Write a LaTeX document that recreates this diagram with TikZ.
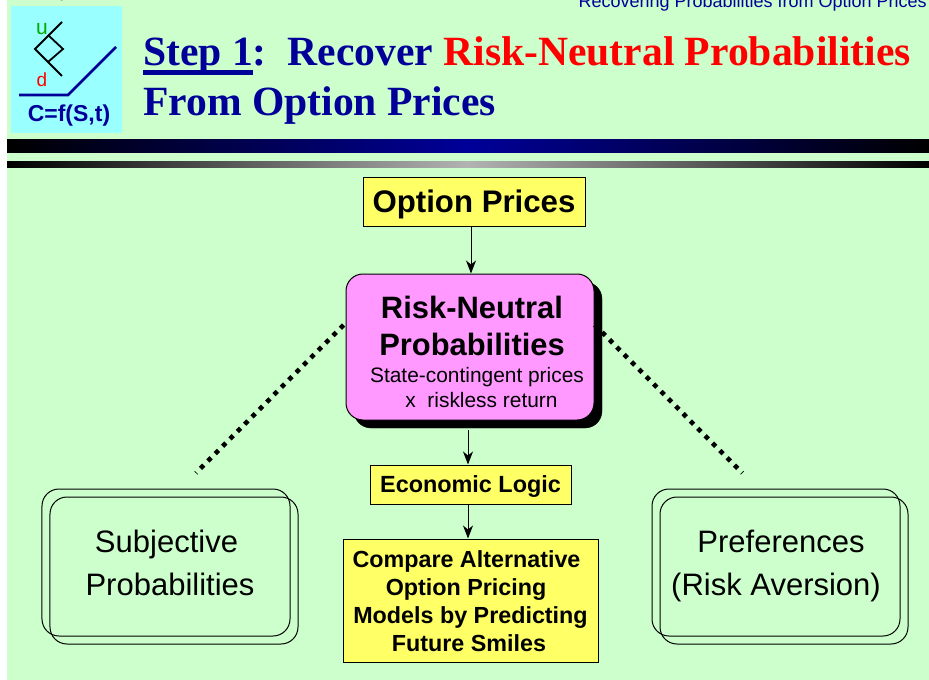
\documentclass[tikz,border=0pt]{standalone}
\usepackage{fontspec}
\setmainfont{Liberation Sans}
\newfontfamily\serifb{Liberation Serif}
\usetikzlibrary{arrows.meta,shadings}
\definecolor{bggreen}{RGB}{204,255,204}
\definecolor{navyb}{RGB}{0,0,153}
\definecolor{logocyan}{RGB}{153,255,255}
\definecolor{boxyellow}{RGB}{255,255,102}
\definecolor{boxpink}{RGB}{255,153,255}
\definecolor{logogreen}{RGB}{0,170,0}
\newcommand\fs[1]{\fontsize{#1bp}{#1bp}\selectfont}
\newcommand\myul[1]{\setbox0\hbox{#1}\rlap{\rule[-9bp]{\wd0}{4.5bp}}\box0}
\tikzset{
  x=1bp,y=-1bp,
  pbox/.style={draw=black,line width=1bp,inner sep=0pt,minimum width=#1,align=center,text=black},
  conn/.style={draw=black,line width=1bp,-{Stealth[length=13bp,width=10bp,inset=4bp]}},
  dots/.style={draw=black,line width=4.6bp,dash pattern=on 4.6bp off 5.82bp,dash phase=4bp},
  ring/.style={draw=black,line width=1bp,rounded corners=17bp},
  titletext/.style={anchor=base west,inner sep=0pt,font=\serifb\bfseries\fs{41.6},text=navyb},
  lbl/.style={anchor=center,inner sep=0pt,align=center,text=black,font=\fs{31}}
}
\begin{document}
\begin{tikzpicture}
\useasboundingbox (0,0) rectangle (929,680);
\clip (0,0) rectangle (929,680);
\fill[white] (0,0) rectangle (929,680);
\fill[bggreen] (7,0) rectangle (929,680);
% header texts
\node[anchor=base east,inner sep=0pt,text=navyb,font=\fs{18}] (hdr) at (927,8) {Recovering Probabilities from Option Prices};
\node[anchor=base,inner sep=0pt,text=black,font=\fs{11}] (hdl) at (62,-1) {g};
% logo
\fill[logocyan] (11,6) rectangle (122,133);
\draw[black,line width=1.8bp] (62,22) -- (35,49) -- (62,76);
\draw[black,line width=1.8bp] (48,35) -- (63,49) -- (48,62);
\draw[navyb,line width=2.6bp] (19,95) -- (68,95) -- (116,47);
\node[anchor=center,inner sep=0pt,text=logogreen,font=\fs{21}] (lu) at (42,29) {u};
\node[anchor=center,inner sep=0pt,text=red,font=\fs{19}] (ld) at (42,80) {d};
\node[anchor=center,inner sep=0pt,text=navyb,font=\bfseries\fs{23}] (lf) at (69,116) {C=f(S,t)};
% title
\node[titletext] (t1) at (143,66) {\myul{Step 1}:\ \ Recover \textcolor{red}{Risk-Neutral Probabilities}};
\node[titletext] (t2) at (143,116) {From Option Prices};
% bars
\shade[left color=black,right color=navyb,shading=axis,shading angle=90] (7,140) rectangle (468,153);
\shade[left color=navyb,right color=black,shading=axis,shading angle=90] (468,140) rectangle (929,153);
\shade[left color=black,right color=black!30,shading=axis,shading angle=90] (7,162) rectangle (468,167);
\shade[left color=black!30,right color=black,shading=axis,shading angle=90] (468,162) rectangle (929,167);
% boxes
\node[pbox=222bp,fill=boxyellow,minimum height=48bp,inner ysep=0pt,font=\bfseries\fs{31.2},text depth=2bp] (opt) at (474,202) {Option Prices};
\node[draw=black,fill=black,rounded corners=17bp,minimum width=248bp,minimum height=146bp,inner sep=0pt] (rnshadow) at (478,355) {};
\node[draw=black,line width=1bp,fill=boxpink,rounded corners=17bp,minimum width=248bp,minimum height=146bp,inner sep=0pt] (rn) at (470,347) {};
\node[anchor=center,inner sep=0pt,align=center,text=black,font=\bfseries\fs{30.9},text depth=0pt] (rnt) at (472,326) {Risk-Neutral\\[5.5bp]Probabilities};
\node[anchor=center,inner sep=0pt,align=center,text=black,font=\fs{20.9},text depth=0pt] (rns) at (477,387.5) {State-contingent prices\\[4.5bp]\hspace*{9bp}x\ \ riskless return};
\node[pbox=201bp,fill=boxyellow,minimum height=39bp,font=\bfseries\fs{23.4},text depth=0pt] (eco) at (470.5,484.5) {Economic Logic};
\node[pbox=255bp,fill=boxyellow,minimum height=123bp] (cmp) at (470.5,600.5) {};
\node[anchor=center,inner sep=0pt,align=center,text=black,font=\bfseries\fs{23.3},text depth=0pt] (cmpt) at (470.5,601.5) {\hspace*{-8bp}Compare Alternative\\[4.7bp]\hspace*{-9bp}Option Pricing\\[4.7bp]Models by Predicting\\[4.7bp]\hspace*{-3bp}Future Smiles};
% rings
\node[ring,minimum width=248bp,minimum height=147bp,inner sep=0pt] (sb) at (166,562.5) {};
\node[ring,minimum width=248bp,minimum height=147bp,inner sep=0pt] (sf) at (174,570.5) {};
\node[lbl] (st) at (170,563) {\hspace*{-7bp}Subjective\\[12bp]Probabilities};
\node[ring,minimum width=248bp,minimum height=147bp,inner sep=0pt] (pb) at (776,562.5) {};
\node[ring,minimum width=248bp,minimum height=147bp,inner sep=0pt] (pf) at (784,570.5) {};
\node[lbl] (pt) at (776,565.5) {\hspace*{10bp}Preferences\\[12bp](Risk Aversion)};
% connectors
\draw[conn] (opt.south -| 471,0) -- (rn.north -| 471,0);
\coordinate (a1) at (468,430);
\draw[conn] (a1) -- (eco.north -| a1);
\draw[conn] (eco.south -| a1) -- (cmp.north -| a1);
\coordinate (dl) at (196,473);
\coordinate (dr) at (742.3,473);
\draw[dots] (dl) -- (rn.west |- 0,323);
\draw[dots] (dr) -- (rn.east |- 0,324.7);
\end{tikzpicture}
\end{document}
